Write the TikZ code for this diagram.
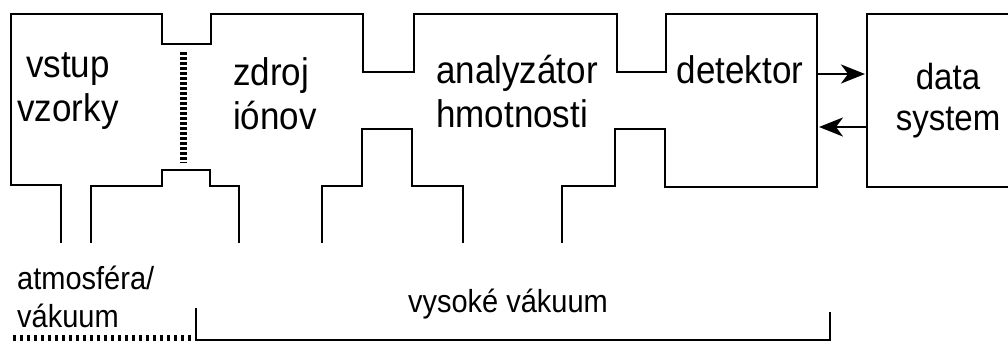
\documentclass[tikz,border=0pt]{standalone}
\usepackage{fontspec}
\usepackage{graphicx}
\setmainfont{Liberation Sans}
\usetikzlibrary{arrows.meta}
\newcommand{\tall}[1]{\scalebox{1}[1.1]{#1}}
\begin{document}
\begin{tikzpicture}[x=1pt,y=-1pt,
  wall/.style={line width=2.6pt, line join=miter},
  big/.style={inner sep=0pt, font=\fontsize{35}{44}\selectfont},
  mid/.style={inner sep=0pt, font=\fontsize{33}{41}\selectfont},
  small/.style={inner sep=0pt, font=\fontsize{29}{38}\selectfont},
  arr/.style={line width=2.6pt, -{Stealth[length=24pt,width=19pt,inset=7pt]}},
  grid/.style={line width=7pt, dash pattern=on 2.5pt off 2.5pt},
  hdots/.style={line width=6pt, dash pattern=on 3pt off 4pt}]
\useasboundingbox (0,0) rectangle (1008,343);
% main outline
\draw[wall] (61,243) -- (61,185) -- (11,185) -- (11,14) -- (162,14) -- (162,44)
  -- (211,44) -- (211,14) -- (363,14) -- (363,72) -- (414,72) -- (414,14)
  -- (617,14) -- (617,72) -- (666,72) -- (666,14) -- (817,14) -- (817,187)
  -- (665,187) -- (665,129) -- (615,129) -- (615,186) -- (562,186) -- (562,243);
\draw[wall] (91,243) -- (91,186) -- (162,186) -- (162,170) -- (210,170)
  -- (210,186) -- (239,186) -- (239,243);
\draw[wall] (322,243) -- (322,186) -- (362,186) -- (362,129) -- (412,129)
  -- (412,186) -- (463,186) -- (463,243);
% data system box
\draw[wall] (1010,14) -- (867,14) -- (867,187) -- (1010,187);
% grid between inlet and source
\coordinate (g1) at (183,52);
\coordinate (g2) at (183,163);
\draw[grid] (g1) -- (g2);
% arrows
\coordinate (d1) at (817,74);
\coordinate (s1) at (865,74);
\coordinate (s2) at (867,127);
\coordinate (d2) at (819,127);
\draw[arr] (d1) -- (s1);
\draw[arr] (s2) -- (d2);
% labels
\node[big, align=center] (vstup) at (68,91) {\tall{vstup}\\\tall{vzorky}};
\node[big, align=left, anchor=west] (zdroj) at (233,94) {\tall{zdroj}\\\tall{iónov}};
\node[big, align=left, anchor=west] (anal) at (436,92) {\tall{analyzátor}\\\tall{hmotnosti}};
\node[big, anchor=base] (det) at (740,83) {\tall{detektor}};
\node[mid, align=center] (data) at (948,101) {\tall{data}\\\tall{system}};
% bottom
\node[small, align=left, anchor=west] (atm) at (17,297) {\tall{atmosféra/}\\\tall{vákuum}};
\node[small, anchor=base] (vys) at (508,312) {\tall{vysoké vákuum}};
\coordinate (a1) at (13,338);
\coordinate (a2) at (193,338);
\draw[hdots] (a1) -- (a2);
\coordinate (b1) at (196,308);
\coordinate (b2) at (196,340);
\coordinate (b3) at (830,340);
\coordinate (b4) at (830,312);
\draw[line width=2.4pt] (b1) -- (b2) -- (b3) -- (b4);
\end{tikzpicture}
\end{document}
